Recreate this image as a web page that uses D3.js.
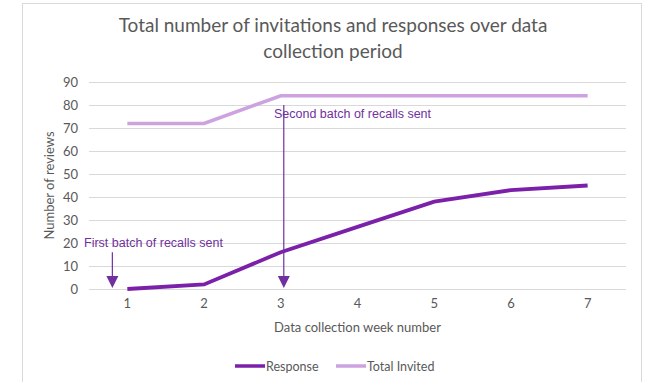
<!DOCTYPE html>
<html>
<head>
<meta charset="utf-8">
<script src="https://cdn.jsdelivr.net/npm/d3@7"></script>
<style>
  body { margin: 0; background: #fff; }
  svg { display: block; }
</style>
</head>
<body>
<div id="chart"></div>
<script>
// data
var weeks = [1, 2, 3, 4, 5, 6, 7];
var response = [0, 2, 16, 27, 38, 43, 45];
var invited = [72, 72, 84, 84, 84, 84, 84];
var yTicks = [0, 10, 20, 30, 40, 50, 60, 70, 80, 90];
var seriesNames = ["Response", "Total Invited"];
var seriesColors = ["#7B20A8", "#CDA2DF"];
var notes = [
  { week: 1, label: "First batch of recalls sent", top: 16, text: 20 },
  { week: 3, label: "Second batch of recalls sent", top: 80, text: 76 }
];

var W = 648, H = 382;
var margin = { left: 89, right: 22, top: 82, bottom: 93 };

var svg = d3.select("#chart").append("svg")
  .attr("width", W)
  .attr("height", H);

// chart frame
svg.append("rect")
  .attr("x", 22.5).attr("y", 3.5)
  .attr("width", 619).attr("height", 390)
  .attr("fill", "#fff")
  .attr("stroke", "#D9D9D9");

var x = d3.scaleBand()
  .domain(weeks)
  .range([margin.left, W - margin.right]);
var xc = function(d) { return x(d) + x.bandwidth() / 2; };

var y = d3.scaleLinear()
  .domain([0, 90])
  .range([H - margin.bottom, margin.top]);

// gridlines
svg.append("g")
  .selectAll("line")
  .data(yTicks)
  .join("line")
    .attr("x1", margin.left)
    .attr("x2", W - margin.right)
    .attr("y1", function(d) { return Math.round(y(d)) + 0.5; })
    .attr("y2", function(d) { return Math.round(y(d)) + 0.5; })
    .attr("stroke", "#D9D9D9")
    .attr("stroke-width", 1);

// axes
var yAxis = svg.append("g")
  .attr("transform", "translate(" + margin.left + ",0)")
  .call(d3.axisLeft(y).tickValues(yTicks).tickSize(0).tickPadding(11));
yAxis.select(".domain").remove();

var xAxis = svg.append("g")
  .attr("transform", "translate(0," + (H - margin.bottom) + ")")
  .call(d3.axisBottom(x).tickSize(0).tickPadding(10));
xAxis.select(".domain").remove();

svg.selectAll(".tick text")
  .attr("fill", "#595959")
  .style("font-family", "Lato, sans-serif")
  .style("font-size", "13px");

// titles
svg.append("text")
  .attr("x", 333).attr("y", 32)
  .attr("text-anchor", "middle")
  .attr("fill", "#595959")
  .style("font-family", "Lato, sans-serif")
  .style("font-size", "19px")
  .text("Total number of invitations and responses over data");
svg.append("text")
  .attr("x", 333).attr("y", 58)
  .attr("text-anchor", "middle")
  .attr("fill", "#595959")
  .style("font-family", "Lato, sans-serif")
  .style("font-size", "19px")
  .text("collection period");

svg.append("text")
  .attr("transform", "translate(54," + ((y(0) + y(90)) / 2) + ") rotate(-90)")
  .attr("text-anchor", "middle")
  .attr("fill", "#595959")
  .style("font-family", "Lato, sans-serif")
  .style("font-size", "13px")
  .text("Number of reviews");

svg.append("text")
  .attr("x", (margin.left + W - margin.right) / 2)
  .attr("y", 332)
  .attr("text-anchor", "middle")
  .attr("fill", "#595959")
  .style("font-family", "Lato, sans-serif")
  .style("font-size", "13px")
  .text("Data collection week number");

// lines
var line = d3.line()
  .x(function(d, i) { return xc(weeks[i]); })
  .y(function(d) { return y(d); });

svg.append("path")
  .datum(invited)
  .attr("fill", "none")
  .attr("stroke", seriesColors[1])
  .attr("stroke-width", 3.5)
  .attr("d", line);

svg.append("path")
  .datum(response)
  .attr("fill", "none")
  .attr("stroke", seriesColors[0])
  .attr("stroke-width", 3.8)
  .attr("d", line);

// annotations
var noteColor = "#7030A0";
notes.forEach(function(n) {
  var ax = xc(n.week) - 15 + (n.week == 3 ? 18 : 0);
  svg.append("line")
    .attr("x1", ax).attr("x2", ax)
    .attr("y1", y(n.top)).attr("y2", y(0) - 12)
    .attr("stroke", noteColor)
    .attr("stroke-width", 1.2);
  svg.append("path")
    .attr("d", "M" + (ax - 6) + "," + (y(0) - 13) + " L" + (ax + 6) + "," + (y(0) - 13) + " L" + ax + "," + (y(0) - 1) + " Z")
    .attr("fill", noteColor);
  svg.append("text")
    .attr("x", n.week == 1 ? 84 : 274)
    .attr("y", y(n.text) + 4)
    .attr("fill", noteColor)
    .style("font-family", "'Liberation Sans', Arial, sans-serif")
    .style("font-size", "12.5px")
    .text(n.label);
});

// legend
var legendX = [235, 336];
seriesNames.forEach(function(name, i) {
  var g = svg.append("g")
    .attr("transform", "translate(" + legendX[i] + ",366)");
  g.append("line")
    .attr("x1", 0).attr("x2", 30)
    .attr("stroke", seriesColors[i])
    .attr("stroke-width", 3.5);
  g.append("text")
    .attr("x", 31).attr("y", 4.5)
    .attr("fill", "#595959")
    .style("font-family", "Lato, sans-serif")
    .style("font-size", "12.5px")
    .text(name);
});
</script>
</body>
</html>
